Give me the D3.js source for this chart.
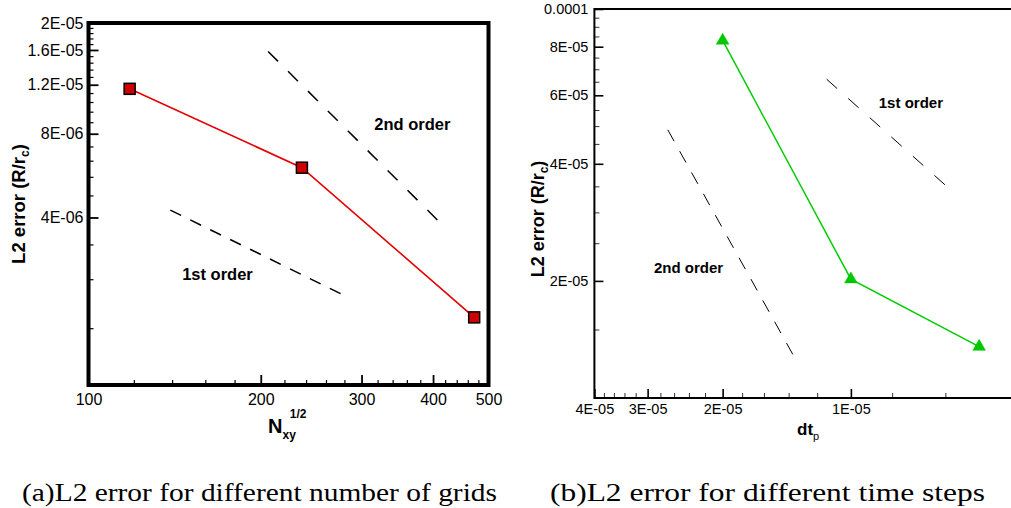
<!DOCTYPE html>
<html>
<head>
<meta charset="utf-8">
<script src="https://cdn.jsdelivr.net/npm/d3@7"></script>
<style>
  html, body { margin: 0; padding: 0; background: #fff; }
  svg { display: block; }
  text { font-family: "Liberation Sans", Arial, Helvetica, sans-serif; }
</style>
</head>
<body>
<svg id="fig" width="1011" height="508"></svg>
<script>
// ---- Panel (a): L2 error versus grid resolution ----
const gridN   = [118, 236, 472];
const gridErr = [1.16e-5, 6.04e-6, 1.75e-6];
// slope guides
const gridFirstN    = [139, 277];
const gridFirstErr  = [4.25e-6, 2.12e-6];
const gridSecondN   = [206, 408];
const gridSecondErr = [1.58e-5, 3.9e-6];
const gridXTicks = [100, 200, 300, 400, 500];
const gridXTickLabels = ["100", "200", "300", "400", "500"];
const gridYTicks = [4e-6, 8e-6, 1.2e-5, 1.6e-5, 2e-5];
const gridYTickLabels = ["4E-06", "8E-06", "1.2E-05", "1.6E-05", "2E-05"];
const gridNotes = [
  { text: "2nd order", x: 368, y: 8.67e-6 },
  { text: "1st order", x: 168, y: 2.5e-6 }
];

// ---- Panel (b): L2 error versus time step ----
const stepDt  = [2e-5, 1e-5, 5e-6];
const stepErr = [8.3e-5, 2.02e-5, 1.355e-5];
const stepFirstDt    = [1.14e-5, 6.01e-6];
const stepFirstErr   = [6.6e-5, 3.53e-5];
const stepSecondDt   = [2.69e-5, 1.369e-5];
const stepSecondErr  = [4.89e-5, 1.295e-5];
const stepXTicks = [4e-5, 3e-5, 2e-5, 1e-5];
const stepXTickLabels = ["4E-05", "3E-05", "2E-05", "1E-05"];
const stepYTicks = [2e-5, 4e-5, 6e-5, 8e-5, 1e-4];
const stepYTickLabels = ["2E-05", "4E-05", "6E-05", "8E-05", "0.0001"];
const stepNotes = [
  { text: "1st order", x: 7.23e-6, y: 5.73e-5 },
  { text: "2nd order", x: 2.405e-5, y: 2.16e-5 }
];

const captions = [
  "(a)L2 error for different number of grids",
  "(b)L2 error for different time steps"
];

const svg = d3.select("#fig");

function labelFrom(values, labels) {
  return v => {
    const i = values.findIndex(t => Math.abs(t - v) / v < 1e-6);
    return i >= 0 ? labels[i] : "";
  };
}

// ================= Panel (a) =================
{
  const x = d3.scaleLog().domain([100, 500]).range([88.5, 488.5]);
  const y = d3.scaleLog().domain([1e-6, 2e-5]).range([385, 23]);
  const g = svg.append("g");

  const minorX = d3.range(6, 25).filter(k => k % 5 !== 0).map(k => k * 20);
  const minorY = d3.range(2, 25).filter(k => k % 5 !== 0).map(k => k * 8e-7);

  // minor ticks
  g.append("g").attr("transform", "translate(0,385)")
    .call(d3.axisBottom(x).tickValues(minorX).tickSize(-5).tickFormat(""))
    .call(a => a.select(".domain").remove())
    .call(a => a.selectAll("line").attr("stroke-width", 1.2));
  g.append("g").attr("transform", "translate(88.5,0)")
    .call(d3.axisLeft(y).tickValues(minorY).tickSize(-5).tickFormat(""))
    .call(a => a.select(".domain").remove())
    .call(a => a.selectAll("line").attr("stroke-width", 1.2));

  // major ticks + labels
  g.append("g").attr("transform", "translate(0,385)")
    .call(d3.axisBottom(x).tickValues(gridXTicks).tickSize(-10).tickPadding(9)
      .tickFormat(labelFrom(gridXTicks, gridXTickLabels)))
    .call(a => a.select(".domain").remove())
    .call(a => a.selectAll("line").attr("stroke-width", 1.8))
    .call(a => a.selectAll("text").attr("font-size", 16).attr("fill", "#000"));
  g.append("g").attr("transform", "translate(88.5,0)")
    .call(d3.axisLeft(y).tickValues(gridYTicks).tickSize(-10).tickPadding(5)
      .tickFormat(labelFrom(gridYTicks, gridYTickLabels)))
    .call(a => a.select(".domain").remove())
    .call(a => a.selectAll("line").attr("stroke-width", 1.8))
    .call(a => a.selectAll("text").attr("font-size", 16).attr("fill", "#000"));

  // frame
  g.append("rect")
    .attr("x", x.range()[0]).attr("y", y.range()[1])
    .attr("width", x.range()[1] - x.range()[0])
    .attr("height", y.range()[0] - y.range()[1])
    .attr("fill", "none").attr("stroke", "#000").attr("stroke-width", 4);

  // slope guides
  const guide = (xs, ys, dash) => g.append("path")
    .attr("d", d3.line()(xs.map((v, i) => [x(v), y(ys[i])])))
    .attr("fill", "none").attr("stroke", "#000").attr("stroke-width", 1.5)
    .attr("stroke-dasharray", dash);
  guide(gridFirstN, gridFirstErr, "12,10.2");
  guide(gridSecondN, gridSecondErr, "14,14.1");

  g.selectAll("text.note").data(gridNotes).join("text")
    .attr("class", "note")
    .attr("x", d => x(d.x)).attr("y", d => y(d.y)).attr("dy", "0.36em")
    .attr("text-anchor", "middle").attr("font-weight", "bold").attr("font-size", 16.5)
    .text(d => d.text);

  // data
  const pts = gridN.map((v, i) => [x(v), y(gridErr[i])]);
  g.append("path").attr("d", d3.line()(pts))
    .attr("fill", "none").attr("stroke", "#e60000").attr("stroke-width", 1.6);
  g.selectAll("rect.pt").data(pts).join("rect").attr("class", "pt")
    .attr("x", d => d[0] - 5.5).attr("y", d => d[1] - 5.5)
    .attr("width", 11).attr("height", 11)
    .attr("fill", "#d00000").attr("stroke", "#000").attr("stroke-width", 1.5);

  // axis titles
  const yt = g.append("text")
    .attr("transform", "translate(25,204) rotate(-90)")
    .attr("text-anchor", "middle").attr("font-weight", "bold").attr("font-size", 18.5);
  yt.append("tspan").text("L2 error (R/r");
  yt.append("tspan").attr("font-size", 12).attr("dy", 4).text("c");
  yt.append("tspan").attr("dy", -4).text(")");

  const xt = g.append("text").attr("x", 268).attr("y", 433)
    .attr("font-weight", "bold").attr("font-size", 20);
  xt.append("tspan").text("N");
  xt.append("tspan").attr("font-size", 12).attr("dy", 6).text("xy");
  xt.append("tspan").attr("font-size", 12).attr("dx", -6).attr("dy", -21).text("1/2");
}

// ================= Panel (b) =================
{
  const x = d3.scaleLog().domain([4e-5, 4e-6]).range([594.4, 1020.4]);
  const y = d3.scaleLog().domain([1e-5, 1e-4]).range([398, 9]);
  const g = svg.append("g");

  const minorX = d3.range(3, 20).filter(k => k % 5 !== 0).map(k => k * 2e-6);
  const minorY = d3.range(3, 20).filter(k => k % 4 !== 0).map(k => k * 5e-6);

  g.append("g").attr("transform", "translate(0,398)")
    .call(d3.axisBottom(x).tickValues(minorX).tickSize(-5).tickFormat(""))
    .call(a => a.select(".domain").remove())
    .call(a => a.selectAll("line").attr("stroke-width", 1).attr("stroke", "#333"));
  g.append("g").attr("transform", "translate(594.4,0)")
    .call(d3.axisLeft(y).tickValues(minorY).tickSize(-5).tickFormat(""))
    .call(a => a.select(".domain").remove())
    .call(a => a.selectAll("line").attr("stroke-width", 1).attr("stroke", "#333"));

  g.append("g").attr("transform", "translate(0,398)")
    .call(d3.axisBottom(x).tickValues(stepXTicks).tickSize(-9).tickPadding(6)
      .tickFormat(labelFrom(stepXTicks, stepXTickLabels)))
    .call(a => a.select(".domain").remove())
    .call(a => a.selectAll("line").attr("stroke-width", 1.6))
    .call(a => a.selectAll("text").attr("font-size", 14.5).attr("fill", "#000"));
  g.append("g").attr("transform", "translate(594.4,0)")
    .call(d3.axisLeft(y).tickValues(stepYTicks).tickSize(-9).tickPadding(6)
      .tickFormat(labelFrom(stepYTicks, stepYTickLabels)))
    .call(a => a.select(".domain").remove())
    .call(a => a.selectAll("line").attr("stroke-width", 1.6))
    .call(a => a.selectAll("text").attr("font-size", 14.5).attr("fill", "#000"));

  g.append("rect")
    .attr("x", x.range()[0]).attr("y", y.range()[1])
    .attr("width", x.range()[1] - x.range()[0])
    .attr("height", y.range()[0] - y.range()[1])
    .attr("fill", "none").attr("stroke", "#000").attr("stroke-width", 2);

  const guide = (xs, ys, dash) => g.append("path")
    .attr("d", d3.line()(xs.map((v, i) => [x(v), y(ys[i])])))
    .attr("fill", "none").attr("stroke", "#000").attr("stroke-width", 1)
    .attr("stroke-dasharray", dash);
  guide(stepFirstDt, stepFirstErr, "14,14.9");
  guide(stepSecondDt, stepSecondErr, "13,11.4");

  g.selectAll("text.note").data(stepNotes).join("text")
    .attr("class", "note")
    .attr("x", d => x(d.x)).attr("y", d => y(d.y)).attr("dy", "0.36em")
    .attr("text-anchor", "middle").attr("font-weight", "bold").attr("font-size", 15)
    .text(d => d.text);

  const pts = stepDt.map((v, i) => [x(v), y(stepErr[i])]);
  g.append("path").attr("d", d3.line()(pts))
    .attr("fill", "none").attr("stroke", "#00cc00").attr("stroke-width", 1.5);
  g.selectAll("path.pt").data(pts).join("path").attr("class", "pt")
    .attr("transform", d => `translate(${d[0]},${d[1]})`)
    .attr("d", d3.symbol().type(d3.symbolTriangle).size(70))
    .attr("fill", "#00c800").attr("stroke", "#00c800").attr("stroke-width", 0.5);

  const yt = g.append("text")
    .attr("transform", "translate(544,219) rotate(-90)")
    .attr("text-anchor", "middle").attr("font-weight", "bold").attr("font-size", 18);
  yt.append("tspan").text("L2 error (R/r");
  yt.append("tspan").attr("font-size", 12).attr("dy", 4).text("c");
  yt.append("tspan").attr("dy", -4).text(")");

  const xt = g.append("text").attr("x", 797).attr("y", 435)
    .attr("font-weight", "bold").attr("font-size", 17);
  xt.append("tspan").text("dt");
  xt.append("tspan").attr("font-size", 11).attr("font-weight", "normal").attr("dy", 5).text("p");
}

// ---- captions ----
svg.selectAll("text.caption").data(captions).join("text")
  .attr("class", "caption")
  .attr("x", (d, i) => i === 0 ? 22 : 550)
  .attr("y", 501)
  .attr("textLength", (d, i) => i === 0 ? 475 : 435)
  .attr("lengthAdjust", "spacingAndGlyphs")
  .style("font-family", "'Liberation Serif', 'DejaVu Serif', serif")
  .attr("font-size", 25)
  .attr("fill", "#000")
  .text(d => d);
</script>
</body>
</html>
